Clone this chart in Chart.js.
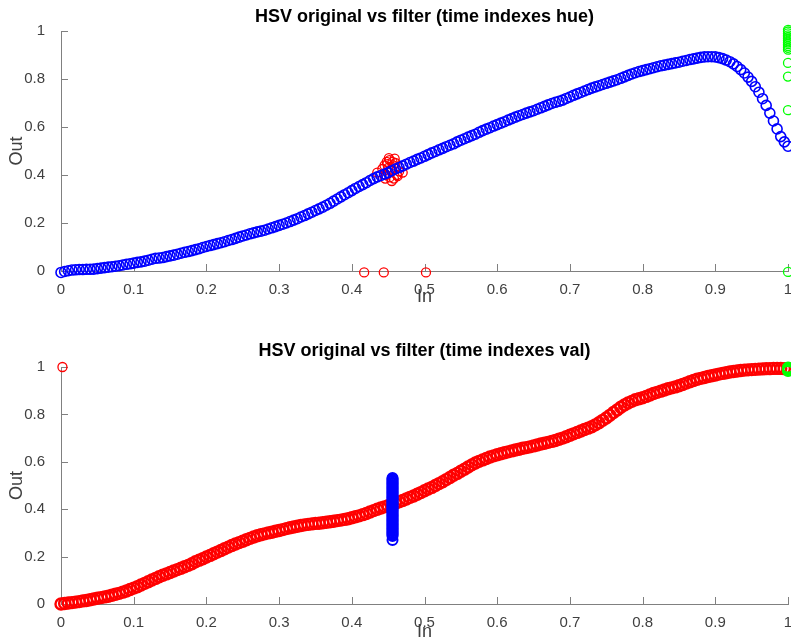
<!DOCTYPE html>
<html>
<head>
<meta charset="utf-8">
<title>HSV original vs filter</title>
<script src="https://cdn.jsdelivr.net/npm/chart.js@4.4.1/dist/chart.umd.min.js"></script>
<style>
  html, body { margin: 0; padding: 0; background: #ffffff; overflow: hidden; }
  body { width: 791px; height: 640px; position: relative; }
  .panel { position: absolute; left: 0; width: 791px; }
  #hueWrap { top: 0; height: 320px; }
  #valWrap { top: 320px; height: 330px; }
</style>
</head>
<body>
<div class="panel" id="hueWrap"><canvas id="hueChart"></canvas></div>
<div class="panel" id="valWrap"><canvas id="valChart"></canvas></div>
<script>
// Input levels (shared x positions of the two mapping curves)
const inputLevels = [
  0,0.005,0.01,0.015,0.02,0.025,0.03,0.035,0.04,0.045,0.05,0.055,0.06,0.065,0.07,0.075,0.08,0.085,0.09,0.095,
  0.1,0.105,0.11,0.115,0.12,0.125,0.13,0.135,0.14,0.145,0.15,0.155,0.16,0.165,0.17,0.175,0.18,0.185,0.19,0.195,
  0.2,0.205,0.21,0.215,0.22,0.225,0.23,0.235,0.24,0.245,0.25,0.255,0.26,0.265,0.27,0.275,0.28,0.285,0.29,0.295,
  0.3,0.305,0.31,0.315,0.32,0.325,0.33,0.335,0.34,0.345,0.35,0.355,0.36,0.365,0.37,0.375,0.38,0.385,0.39,0.395,
  0.4,0.405,0.41,0.415,0.42,0.425,0.43,0.435,0.44,0.445,0.45,0.455,0.46,0.465,0.47,0.475,0.48,0.485,0.49,0.495,
  0.5,0.505,0.51,0.515,0.52,0.525,0.53,0.535,0.54,0.545,0.55,0.555,0.56,0.565,0.57,0.575,0.58,0.585,0.59,0.595,
  0.6,0.605,0.61,0.615,0.62,0.625,0.63,0.635,0.64,0.645,0.65,0.655,0.66,0.665,0.67,0.675,0.68,0.685,0.69,0.695,
  0.7,0.705,0.71,0.715,0.72,0.725,0.73,0.735,0.74,0.745,0.75,0.755,0.76,0.765,0.77,0.775,0.78,0.785,0.79,0.795,
  0.8,0.805,0.81,0.815,0.82,0.825,0.83,0.835,0.84,0.845,0.85,0.855,0.86,0.865,0.87,0.875,0.88,0.885,0.89,0.895,
  0.9,0.905,0.91,0.915,0.92,0.925,0.93,0.935,0.94,0.945,0.95,0.955,0.96,0.965,0.97,0.975,0.98,0.985,0.99,0.995,
  1
];

// Hue channel: output per input level (blue)
const hueOut = [
  -0.006,-0.002,0.001,0.004,0.005,0.006,0.006,0.007,0.007,0.008,0.010,0.012,0.014,0.016,0.018,0.020,0.022,0.025,0.028,0.030,
  0.033,0.036,0.038,0.041,0.045,0.049,0.053,0.054,0.056,0.060,0.063,0.066,0.070,0.074,0.078,0.081,0.085,0.089,0.093,0.098,
  0.102,0.106,0.110,0.114,0.118,0.122,0.127,0.131,0.136,0.141,0.146,0.150,0.155,0.159,0.163,0.166,0.170,0.175,0.180,0.185,
  0.190,0.195,0.200,0.206,0.212,0.218,0.225,0.231,0.238,0.245,0.252,0.259,0.266,0.274,0.282,0.291,0.300,0.309,0.318,0.326,
  0.335,0.344,0.352,0.360,0.368,0.377,0.385,0.392,0.398,0.404,0.410,0.418,0.425,0.431,0.438,0.445,0.452,0.458,0.465,0.471,
  0.478,0.485,0.492,0.498,0.505,0.511,0.518,0.524,0.530,0.538,0.545,0.551,0.558,0.564,0.570,0.578,0.585,0.591,0.597,0.604,
  0.610,0.616,0.622,0.629,0.635,0.641,0.647,0.652,0.658,0.663,0.668,0.674,0.680,0.686,0.692,0.698,0.703,0.707,0.712,0.719,
  0.725,0.732,0.738,0.744,0.750,0.756,0.762,0.767,0.772,0.777,0.782,0.787,0.792,0.797,0.803,0.809,0.815,0.821,0.826,0.831,
  0.835,0.839,0.843,0.847,0.851,0.855,0.858,0.861,0.864,0.867,0.870,0.874,0.877,0.881,0.884,0.887,0.890,0.892,0.893,0.893,
  0.892,0.889,0.885,0.879,0.872,0.863,0.852,0.839,0.825,0.808,0.790,0.768,0.745,0.718,0.690,0.658,0.625,0.592,0.560,0.538,
  0.520
];

// Hue channel: filtered samples (red) and edge samples at In = 1 (green)
const hueRedX = [0.435,0.445,0.448,0.452,0.456,0.460,0.450,0.455,0.447,0.452,0.458,0.462,0.465,0.470,0.455,0.449,0.457,0.442,0.463,0.451,0.459,0.446,0.417,0.444,0.502];
const hueRedY = [0.410,0.440,0.455,0.462,0.455,0.450,0.430,0.420,0.400,0.390,0.385,0.400,0.415,0.410,0.375,0.445,0.440,0.425,0.395,0.470,0.468,0.385,-0.006,-0.006,-0.006];
const hueGreenX = [1,1,1,1,1,1,1,1,1,1,1,1,1,1,1,1];
const hueGreenY = [1.005,0.998,0.99,0.982,0.975,0.968,0.96,0.952,0.945,0.937,0.93,0.922,0.867,0.810,0.670,-0.004];

// Value channel: output per input level (red)
const valOut = [
  0.000,0.002,0.004,0.006,0.008,0.010,0.013,0.015,0.018,0.021,0.024,0.027,0.030,0.033,0.037,0.041,0.045,0.050,0.055,0.061,
  0.067,0.073,0.080,0.087,0.094,0.101,0.108,0.115,0.121,0.127,0.133,0.139,0.145,0.151,0.157,0.163,0.170,0.178,0.185,0.191,
  0.198,0.205,0.212,0.219,0.226,0.233,0.240,0.247,0.253,0.259,0.265,0.271,0.277,0.283,0.288,0.292,0.296,0.300,0.303,0.307,
  0.310,0.314,0.318,0.322,0.325,0.328,0.331,0.334,0.336,0.338,0.340,0.341,0.343,0.345,0.347,0.349,0.352,0.354,0.357,0.360,
  0.364,0.368,0.372,0.377,0.382,0.388,0.394,0.400,0.405,0.410,0.415,0.420,0.425,0.431,0.437,0.443,0.450,0.456,0.463,0.470,
  0.478,0.485,0.492,0.500,0.508,0.516,0.525,0.534,0.543,0.551,0.560,0.569,0.578,0.587,0.595,0.602,0.608,0.614,0.620,0.625,
  0.630,0.634,0.638,0.642,0.646,0.650,0.653,0.657,0.660,0.663,0.667,0.671,0.675,0.678,0.682,0.686,0.690,0.695,0.700,0.706,
  0.712,0.718,0.724,0.730,0.736,0.742,0.748,0.756,0.765,0.775,0.785,0.796,0.808,0.819,0.830,0.840,0.848,0.855,0.862,0.866,
  0.870,0.876,0.882,0.888,0.893,0.898,0.903,0.908,0.912,0.916,0.921,0.926,0.932,0.938,0.943,0.948,0.952,0.956,0.960,0.963,
  0.966,0.970,0.973,0.976,0.979,0.981,0.983,0.985,0.987,0.988,0.989,0.990,0.991,0.992,0.993,0.993,0.994,0.994,0.994,0.993,
  0.993
];

// Value channel: filtered samples (blue column) and the stray points
const valBlueX = [
  0.456,0.456,0.456,0.456,0.456,0.456,0.456,0.456,0.456,0.456,0.456,0.456,0.456,0.456,0.456,0.456,0.456,0.456,0.456,0.456,
  0.456,0.456,0.456,0.456,0.456,0.456,0.456,0.456,0.456,0.456,0.456,0.456,0.456,0.456,0.456,0.456,0.456,0.456,0.456,0.456,
  0.456,0.456,0.456,0.456,0.456,0.456,0.456,0.456,0.456,0.456,0.456
];
const valBlueY = [
  0.532,0.527,0.522,0.517,0.512,0.507,0.502,0.497,0.492,0.487,0.482,0.477,0.472,0.467,0.462,0.457,0.452,0.447,0.442,0.437,
  0.432,0.427,0.422,0.417,0.412,0.407,0.402,0.397,0.392,0.387,0.382,0.377,0.372,0.367,0.362,0.357,0.352,0.347,0.342,0.337,
  0.332,0.327,0.322,0.317,0.312,0.307,0.302,0.297,0.292,0.287,0.270
];
const valRedExtraX = [0.002];
const valRedExtraY = [1.0];
const valGreenX = [1,1,1,1,1];
const valGreenY = [0.998,0.993,0.988,0.983,0.990];

// Axis tick labels
const xTickLabels = ['0','0.1','0.2','0.3','0.4','0.5','0.6','0.7','0.8','0.9','1'];
const yTickLabels = ['0','0.2','0.4','0.6','0.8','1'];

const FONT = "'Liberation Sans', Arial, Helvetica, sans-serif";
const AXIS_GREY = '#808080';
const TEXT_GREY = '#404040';

function points(xs, ys) {
  return xs.map((x, i) => ({ x: x, y: ys[i] }));
}

function circles(label, color, data, radius, stroke) {
  return {
    label: label,
    data: data,
    showLine: false,
    pointStyle: 'circle',
    pointRadius: radius,
    pointHoverRadius: radius,
    pointBorderWidth: stroke,
    borderColor: color,
    backgroundColor: 'rgba(0,0,0,0)',
    clip: false
  };
}

// Tick marks drawn on the inside of the left and bottom axes
const inwardTicks = {
  id: 'inwardTicks',
  beforeDatasetsDraw(chart) {
    const { ctx, chartArea, scales } = chart;
    const len = 7;
    ctx.save();
    ctx.strokeStyle = AXIS_GREY;
    ctx.lineWidth = 1;
    ctx.beginPath();
    scales.x.ticks.forEach(t => {
      const px = Math.round(scales.x.getPixelForValue(t.value)) + 0.5;
      ctx.moveTo(px, chartArea.bottom);
      ctx.lineTo(px, chartArea.bottom - len);
    });
    scales.y.ticks.forEach(t => {
      const py = Math.round(scales.y.getPixelForValue(t.value)) + 0.5;
      ctx.moveTo(chartArea.left, py);
      ctx.lineTo(chartArea.left + len, py);
    });
    ctx.stroke();
    ctx.restore();
  }
};

function panelOptions(title, geo) {
  return {
    responsive: true,
    maintainAspectRatio: false,
    animation: false,
    events: [],
    layout: { autoPadding: false, padding: { left: 0, right: 3, top: 0, bottom: 0 } },
    plugins: {
      legend: { display: false },
      tooltip: { enabled: false },
      title: {
        display: true,
        text: title,
        fullSize: false,
        color: '#000000',
        font: { family: FONT, size: 18, weight: 'bold', lineHeight: 1.2 },
        padding: { top: geo.titleTop, bottom: geo.titleBottom }
      }
    },
    scales: {
      x: {
        type: 'linear',
        min: 0,
        max: 1,
        grid: { display: false },
        border: { display: true, color: AXIS_GREY, width: 1 },
        ticks: {
          stepSize: 0.1,
          autoSkip: false,
          maxRotation: 0,
          padding: 2,
          color: TEXT_GREY,
          font: { family: FONT, size: 15 },
          callback: (v, i) => xTickLabels[i]
        },
        title: {
          display: true,
          text: 'In',
          color: TEXT_GREY,
          font: { family: FONT, size: 18, lineHeight: 1.2 },
          padding: { top: 0, bottom: geo.inBottom }
        },
        afterFit: s => { s.height = geo.xHeight; s.paddingLeft = 0; s.paddingRight = 0; }
      },
      y: {
        type: 'linear',
        min: 0,
        max: 1,
        grid: { display: false },
        border: { display: true, color: AXIS_GREY, width: 1 },
        ticks: {
          stepSize: 0.2,
          autoSkip: false,
          padding: 8,
          color: TEXT_GREY,
          font: { family: FONT, size: 15 },
          callback: (v, i) => yTickLabels[i]
        },
        title: {
          display: true,
          text: 'Out',
          color: TEXT_GREY,
          font: { family: FONT, size: 18, lineHeight: 1.2 },
          padding: { top: 6.2, bottom: 0 }
        },
        afterFit: s => { s.width = 61; s.paddingTop = 0; s.paddingBottom = 0; }
      }
    }
  };
}

new Chart(document.getElementById('hueChart'), {
  type: 'scatter',
  data: {
    datasets: [
      circles('edge', '#00ff00', points(hueGreenX, hueGreenY), 4.5, 1.3),
      circles('hue', '#0000ff', points(inputLevels, hueOut), 5, 1.6),
      circles('filter', '#ff0000', points(hueRedX, hueRedY), 4.5, 1.3)
    ]
  },
  options: panelOptions('HSV original vs filter (time indexes hue)',
    { titleTop: 6.2, titleBottom: 3.2, xHeight: 49, inBottom: 12.2 }),
  plugins: [inwardTicks]
});

new Chart(document.getElementById('valChart'), {
  type: 'scatter',
  data: {
    datasets: [
      circles('edge', '#00ff00', points(valGreenX, valGreenY), 5, 2),
      circles('filter', '#0000ff', points(valBlueX, valBlueY), 5, 2),
      circles('val', '#ff0000', points(inputLevels, valOut), 5.5, 2.4),
      circles('stray', '#ff0000', points(valRedExtraX, valRedExtraY), 4.5, 1.3)
    ]
  },
  options: panelOptions('HSV original vs filter (time indexes val)',
    { titleTop: 20.2, titleBottom: 5.2, xHeight: 46, inBottom: 7.2 }),
  plugins: [inwardTicks]
});
</script>
</body>
</html>
